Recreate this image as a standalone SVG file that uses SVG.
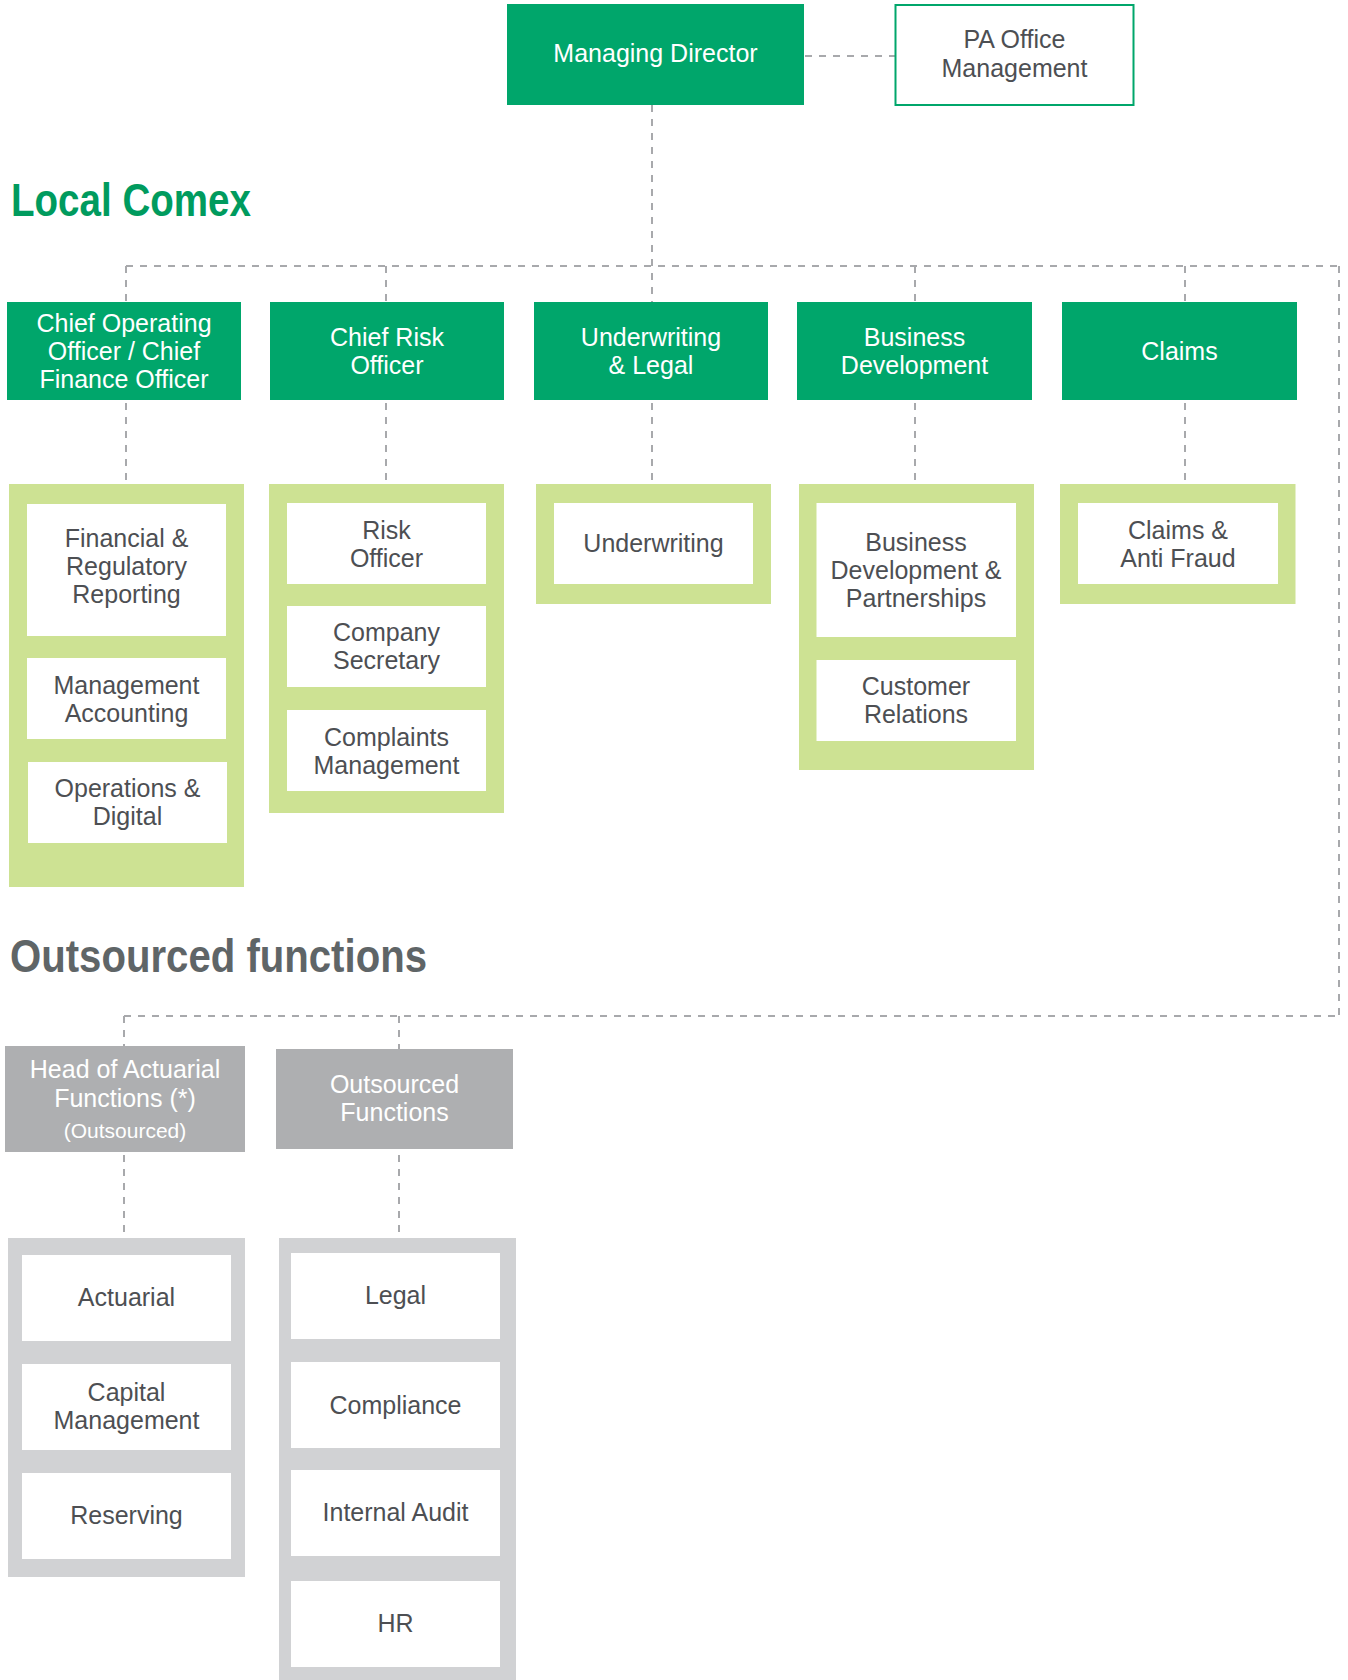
<svg xmlns="http://www.w3.org/2000/svg" width="1348" height="1680" viewBox="0 0 1348 1680">
<style>
.green{fill:#00a66b}
.lg{fill:#cde293}
.gc{fill:#d1d2d4}
.gb{fill:#aeafb1}
.wb{fill:#ffffff}
.t{font-family:"Liberation Sans",Arial,sans-serif;font-size:25px;text-anchor:middle}
.tw{fill:#ffffff}
.td{fill:#4d4f53}
.h{font-family:"Liberation Sans",Arial,sans-serif;font-size:46px;font-weight:bold}
.c{stroke:#a8a9ac;stroke-width:2;stroke-dasharray:7 7;fill:none}
</style>
<rect width="1348" height="1680" fill="#ffffff"/>

<g id="connectors">
<line class="c" x1="805" y1="56" x2="895" y2="56"/>
<line class="c" x1="652" y1="105" x2="652" y2="302"/>
<line class="c" x1="126" y1="266" x2="1339" y2="266"/>
<line class="c" x1="1339" y1="266" x2="1339" y2="1016"/>
<line class="c" x1="126" y1="266" x2="126" y2="302"/>
<line class="c" x1="386" y1="266" x2="386" y2="302"/>
<line class="c" x1="915" y1="266" x2="915" y2="302"/>
<line class="c" x1="1185" y1="266" x2="1185" y2="302"/>
<line class="c" x1="126" y1="403" x2="126" y2="484"/>
<line class="c" x1="386" y1="403" x2="386" y2="484"/>
<line class="c" x1="652" y1="403" x2="652" y2="484"/>
<line class="c" x1="915" y1="403" x2="915" y2="484"/>
<line class="c" x1="1185" y1="403" x2="1185" y2="484"/>
<line class="c" x1="124" y1="1016" x2="1339" y2="1016"/>
<line class="c" x1="124" y1="1016" x2="124" y2="1046"/>
<line class="c" x1="399" y1="1016" x2="399" y2="1049"/>
<line class="c" x1="124" y1="1155" x2="124" y2="1238"/>
<line class="c" x1="399" y1="1155" x2="399" y2="1238"/>
</g>

<g id="managing-director">
<rect class="green" x="507" y="4" width="297" height="101"/>
<text class="t tw" x="655.5" y="62">Managing Director</text>
</g>
<g id="pa-office">
<rect x="895.5" y="5" width="238" height="100" fill="#ffffff" stroke="#00a66b" stroke-width="2"/>
<text class="t td" x="1014.5" y="48">PA Office</text>
<text class="t td" x="1014.5" y="77">Management</text>
</g>

<text id="heading-local-comex" class="h" x="11" y="216" fill="#009b5e" textLength="240" lengthAdjust="spacingAndGlyphs">Local Comex</text>

<g id="coo-cfo">
<rect class="green" x="7" y="302" width="234" height="98"/>
<text class="t tw" x="124" y="332">Chief Operating</text>
<text class="t tw" x="124" y="360">Officer / Chief</text>
<text class="t tw" x="124" y="388">Finance Officer</text>
</g>
<g id="cro">
<rect class="green" x="270" y="302" width="234" height="98"/>
<text class="t tw" x="387" y="346">Chief Risk</text>
<text class="t tw" x="387" y="374">Officer</text>
</g>
<g id="underwriting-legal">
<rect class="green" x="534" y="302" width="234" height="98"/>
<text class="t tw" x="651" y="346">Underwriting</text>
<text class="t tw" x="651" y="374">&amp; Legal</text>
</g>
<g id="business-development">
<rect class="green" x="797" y="302" width="235" height="98"/>
<text class="t tw" x="914.5" y="346">Business</text>
<text class="t tw" x="914.5" y="374">Development</text>
</g>
<g id="claims">
<rect class="green" x="1062" y="302" width="235" height="98"/>
<text class="t tw" x="1179.5" y="360">Claims</text>
</g>

<g id="coo-functions">
<rect class="lg" x="9" y="484" width="235" height="403"/>
<g id="financial-regulatory-reporting">
<rect class="wb" x="27" y="504" width="199" height="132"/>
<text class="t td" x="126.5" y="547">Financial &amp;</text>
<text class="t td" x="126.5" y="575">Regulatory</text>
<text class="t td" x="126.5" y="603">Reporting</text>
</g>
<g id="management-accounting">
<rect class="wb" x="27" y="658" width="199" height="81"/>
<text class="t td" x="126.5" y="693.5">Management</text>
<text class="t td" x="126.5" y="721.5">Accounting</text>
</g>
<g id="operations-digital">
<rect class="wb" x="28" y="762" width="199" height="81"/>
<text class="t td" x="127.5" y="796.5">Operations &amp;</text>
<text class="t td" x="127.5" y="824.5">Digital</text>
</g>
</g>

<g id="cro-functions">
<rect class="lg" x="269" y="484" width="235" height="329"/>
<g id="risk-officer">
<rect class="wb" x="287" y="503" width="199" height="81"/>
<text class="t td" x="386.5" y="538.5">Risk</text>
<text class="t td" x="386.5" y="566.5">Officer</text>
</g>
<g id="company-secretary">
<rect class="wb" x="287" y="606" width="199" height="81"/>
<text class="t td" x="386.5" y="641">Company</text>
<text class="t td" x="386.5" y="669">Secretary</text>
</g>
<g id="complaints-management">
<rect class="wb" x="287" y="710" width="199" height="81"/>
<text class="t td" x="386.5" y="745.5">Complaints</text>
<text class="t td" x="386.5" y="773.5">Management</text>
</g>
</g>

<g id="uw-functions">
<rect class="lg" x="536" y="484" width="235" height="120"/>
<g id="underwriting">
<rect class="wb" x="554" y="503" width="199" height="81"/>
<text class="t td" x="653.5" y="551.5">Underwriting</text>
</g>
</g>

<g id="bd-functions">
<rect class="lg" x="799" y="484" width="235" height="286"/>
<g id="bd-partnerships">
<rect class="wb" x="816.5" y="503" width="199.5" height="134"/>
<text class="t td" x="916" y="550.5">Business</text>
<text class="t td" x="916" y="578.5">Development &amp;</text>
<text class="t td" x="916" y="606.5">Partnerships</text>
</g>
<g id="customer-relations">
<rect class="wb" x="816.5" y="660" width="199.5" height="81"/>
<text class="t td" x="916" y="695">Customer</text>
<text class="t td" x="916" y="723">Relations</text>
</g>
</g>

<g id="claims-functions">
<rect class="lg" x="1060" y="484" width="235.5" height="120"/>
<g id="claims-anti-fraud">
<rect class="wb" x="1078" y="503" width="200" height="81"/>
<text class="t td" x="1178" y="538.5">Claims &amp;</text>
<text class="t td" x="1178" y="566.5">Anti Fraud</text>
</g>
</g>

<text id="heading-outsourced" class="h" x="10" y="972" fill="#5f6567" textLength="417" lengthAdjust="spacingAndGlyphs">Outsourced functions</text>

<g id="head-actuarial">
<rect class="gb" x="5" y="1046" width="240" height="106"/>
<text class="t tw" x="125" y="1078">Head of Actuarial</text>
<text class="t tw" x="125" y="1107">Functions (*)</text>
<text class="t tw" x="125" y="1138" style="font-size:21px">(Outsourced)</text>
</g>
<g id="outsourced-functions">
<rect class="gb" x="276" y="1049" width="237" height="100"/>
<text class="t tw" x="394.5" y="1093">Outsourced</text>
<text class="t tw" x="394.5" y="1121">Functions</text>
</g>

<g id="actuarial-functions">
<rect class="gc" x="8" y="1238" width="237" height="339"/>
<g id="actuarial">
<rect class="wb" x="22" y="1255" width="209" height="86"/>
<text class="t td" x="126.5" y="1306">Actuarial</text>
</g>
<g id="capital-management">
<rect class="wb" x="22" y="1364" width="209" height="86"/>
<text class="t td" x="126.5" y="1401">Capital</text>
<text class="t td" x="126.5" y="1429">Management</text>
</g>
<g id="reserving">
<rect class="wb" x="22" y="1473" width="209" height="86"/>
<text class="t td" x="126.5" y="1524">Reserving</text>
</g>
</g>

<g id="outsourced-list">
<rect class="gc" x="279" y="1238" width="237" height="442"/>
<g id="legal">
<rect class="wb" x="291" y="1253" width="209" height="86"/>
<text class="t td" x="395.5" y="1304">Legal</text>
</g>
<g id="compliance">
<rect class="wb" x="291" y="1362" width="209" height="86"/>
<text class="t td" x="395.5" y="1413.5">Compliance</text>
</g>
<g id="internal-audit">
<rect class="wb" x="291" y="1470" width="209" height="86"/>
<text class="t td" x="395.5" y="1521">Internal Audit</text>
</g>
<g id="hr">
<rect class="wb" x="291" y="1581" width="209" height="86"/>
<text class="t td" x="395.5" y="1632">HR</text>
</g>
</g>
</svg>
